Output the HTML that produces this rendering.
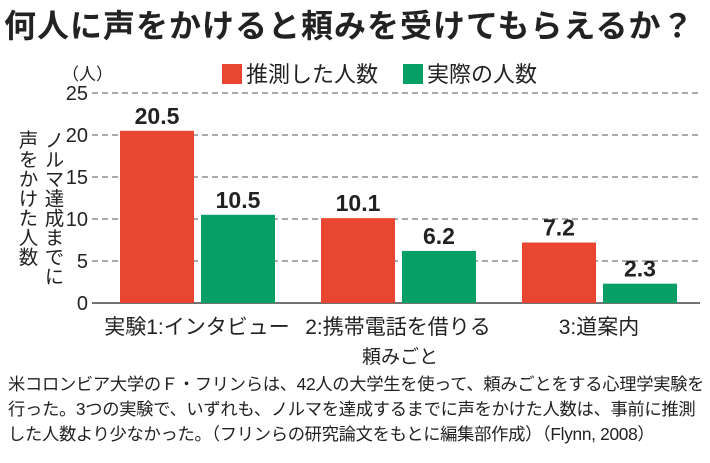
<!DOCTYPE html>
<html><head><meta charset="utf-8"><style>
body{margin:0;width:710px;height:463px;background:#fff;overflow:hidden;font-family:"Liberation Sans","Noto Sans CJK JP",sans-serif;color:#222}
.t{position:absolute;white-space:nowrap}
</style></head><body>
<div class="t" style="left:4px;top:1px;font-size:32px;font-weight:bold;letter-spacing:1px;color:#222">何人に声をかけると頼みを受けてもらえるか？</div>
<div class="t" style="left:222px;top:57px;font-size:22px"><span style="display:inline-block;width:20px;height:20px;background:#e84630;vertical-align:-2px;margin-right:4px"></span>推測した人数</div>
<div class="t" style="left:403px;top:57px;font-size:22px"><span style="display:inline-block;width:20px;height:20px;background:#06a066;vertical-align:-2px;margin-right:4px"></span>実際の人数</div>
<div class="t" style="left:62px;top:60px;font-size:17px">（人）</div>
<div class="t" style="left:13px;top:130px;font-size:19.5px;writing-mode:vertical-rl;line-height:26px;height:170px">ノルマ達成までに<br>声をかけた人数</div>
<svg id="c" width="710" height="463" style="position:absolute;left:0;top:0"></svg>
<div class="t" style="left:362px;top:342px;font-size:19px">頼みごと</div>
<div class="t" style="left:8px;top:372px;font-size:17.3px;line-height:25px;letter-spacing:-0.3px">米コロンビア大学のＦ・フリンらは、42人の大学生を使って、頼みごとをする心理学実験を<br>行った。3つの実験で、いずれも、ノルマを達成するまでに声をかけた人数は、事前に推測<br>した人数より少なかった。（フリンらの研究論文をもとに編集部作成）（Flynn, 2008）</div>
<script>
const categories=["実験1:インタビュー","2:携帯電話を借りる","3:道案内"];
const estimated=[20.5,10.1,7.2];
const actual=[10.5,6.2,2.3];
const ticks=[0,5,10,15,20,25];
const NS="http://www.w3.org/2000/svg";
const svg=document.getElementById('c');
const y0=303,pxu=8.4;
const yS=v=>y0-v*pxu;
const xG=i=>120+i*201;
function mk(t,a){const e=document.createElementNS(NS,t);for(const k in a)e.setAttribute(k,a[k]);svg.appendChild(e);return e;}
ticks.forEach(v=>{
 if(v>0){const l=mk('line',{x1:92,x2:700,y1:yS(v),y2:yS(v),stroke:'#555','stroke-width':1,'stroke-dasharray':'6,4'});
 
 }
 const t=mk('text',{x:88,y:yS(v)+7,'text-anchor':'end','font-size':20,fill:'#222'});t.textContent=v;
 
 
});
const ax=mk('line',{x1:92,x2:700,y1:y0,y2:y0,stroke:'#444','stroke-width':1.5});


categories.forEach((c,i)=>{
 [[estimated[i],'#e84630',0],[actual[i],'#06a066',81]].forEach(([v,col,off])=>{
  const x=xG(i)+off;
  const r=mk('rect',{x:x,y:yS(v),width:74,height:v*pxu,fill:col});
  
  
  const t=mk('text',{x:x+37,y:yS(v)-7,'text-anchor':'middle','font-size':23,'font-weight':'bold',fill:'#222'});t.textContent=v.toFixed(1);
  
  
 });
 const t=mk('text',{x:xG(i)+77,y:334,'text-anchor':'middle','font-size':21,fill:'#222'});t.textContent=c;
 
 
});
</script>
</body></html>
